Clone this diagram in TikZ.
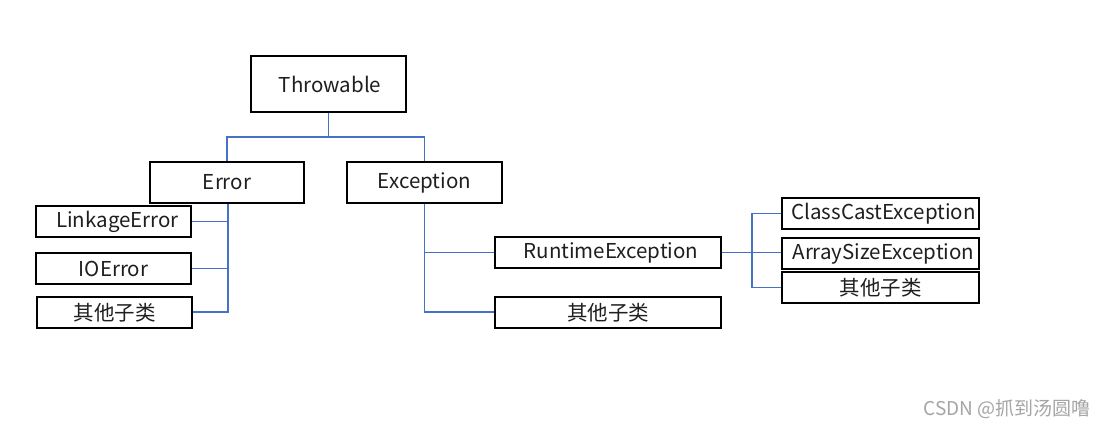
\documentclass[tikz,border=0pt]{standalone}
\usepackage{fontspec}
\setmainfont{Noto Sans CJK SC}
\newfontfamily\lightcjk{Noto Sans CJK SC Light}
\newcommand{\lb}[1]{\raisebox{-2pt}{#1}}
\begin{document}
\begin{tikzpicture}[x=1pt,y=-1pt,
  box/.style={draw=black,line width=1.1pt,inner sep=0pt,fill=white,
    font=\fontsize{20.5}{24}\selectfont,text=black!88},
  conn/.style={line width=1.1pt,color={rgb,255:red,68;green,114;blue,196}}]
\path[use as bounding box,fill=white] (0,0) rectangle (1107,428);
% level 0
\node[box,minimum width=155pt,minimum height=56pt] (thr) at (328.5,84) {\lb{\hspace*{3pt}Throwable}};
% level 1
\node[box,minimum width=154pt,minimum height=41pt] (err) at (227,182.5) {\raisebox{-4pt}{Error}};
\node[box,minimum width=155pt,minimum height=41pt] (exc) at (424.5,182.5) {\lb{Exception}};
% error children
\node[box,minimum width=155pt,minimum height=31pt] (link) at (113.5,221.5) {\lb{\hspace*{8pt}LinkageError}};
\node[box,minimum width=155pt,minimum height=31pt] (io) at (113.5,268.5) {\lb{IOError}};
\node[box,minimum width=155pt,minimum height=31pt] (oth1) at (114.5,312.5) {\lb{其他子类}};
% exception children
\node[box,minimum width=226pt,minimum height=31pt] (rt) at (608,252.5) {\lb{\hspace*{6pt}RuntimeException}};
\node[box,minimum width=226pt,minimum height=31pt] (oth2) at (608,312.5) {\lb{其他子类}};
% runtime children
\node[box,minimum width=197pt,minimum height=31pt] (cls) at (880.5,213.5) {\lb{\hspace*{6pt}ClassCastException}};
\node[box,minimum width=197pt,minimum height=31pt] (arr) at (880.5,253.5) {\lb{\hspace*{6pt}ArraySizeException}};
\node[box,minimum width=197pt,minimum height=31pt] (oth3) at (880.5,287.5) {\lb{其他子类}};
% connectors
\coordinate (t1) at (328.5,137);
\draw[conn] (thr.south) -- (t1);
\draw[conn] (t1) -| (err.north);
\draw[conn] (t1) -| (exc.north);
\coordinate (e1) at (228,312);
\draw[conn] (err.south -| e1) -- (e1) -- (oth1.east |- e1);
\draw[conn] (link.east) -- (link.east -| e1);
\draw[conn] (io.east) -- (io.east -| e1);
\coordinate (x1) at (424.5,312);
\draw[conn] (exc.south) -- (x1) -- (oth2.west |- x1);
\draw[conn] (rt.west) -- (rt.west -| x1);
\coordinate (r1) at (752,252.5);
\draw[conn] (rt.east) -- (arr.west |- r1);
\draw[conn] (cls.west) -| (r1) |- (oth3.west);
% watermark
\node[text={rgb,255:red,165;green,165;blue,165},font=\fontsize{19}{22}\selectfont,inner sep=0pt] (wm) at (1007,409) {CSDN @抓到汤圆噜};
\end{tikzpicture}
\end{document}
